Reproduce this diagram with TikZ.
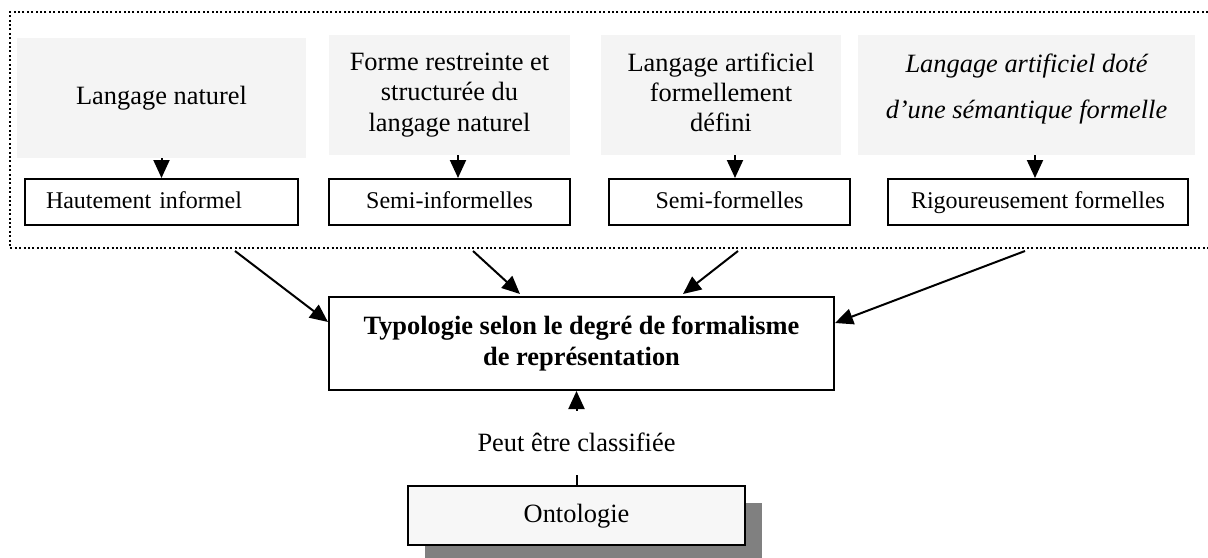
\documentclass[tikz,border=0pt]{standalone}
\usepackage{fontspec}
\setmainfont{Liberation Serif}
\usetikzlibrary{arrows.meta,shadows}
\definecolor{paneGrey}{HTML}{F4F4F4}
\definecolor{ontoFill}{HTML}{F7F7F7}
\definecolor{shadowGrey}{HTML}{808080}
\tikzset{
  big/.style={font=\fontsize{13.2}{15.2}\selectfont},
  small/.style={font=\fontsize{12}{14}\selectfont},
  pane/.style={big, fill=paneGrey, draw=none, align=center, inner sep=0pt,
               minimum height=60pt},
  levelbox/.style={small, draw, line width=1pt, fill=white, inner sep=0pt,
                   minimum height=23pt, text height=8.6pt, text depth=2.6pt},
  mainbox/.style={big, draw, line width=1pt, fill=white, align=center,
                  inner sep=0pt, minimum width=252.5pt, minimum height=46.5pt},
  ontobox/.style={big, draw, line width=1pt, fill=ontoFill, inner sep=0pt,
                  minimum width=168.5pt, minimum height=29.5pt,
                  text height=9.4pt, text depth=2.9pt,
                  drop shadow={shadow xshift=8.5pt, shadow yshift=-8.5pt,
                               fill=shadowGrey, opacity=1}},
  arr/.style={line width=1pt, -{Triangle[length=9pt,width=8pt]}},
  frameline/.style={line width=1pt, dash pattern=on 1pt off 1.2pt}
}
\begin{document}
\begin{tikzpicture}[x=0.5pt,y=-0.5pt]
\clip (0,0) rectangle (1208,557);

% dotted frame around the four representation levels (open on the right)
\draw[frameline] (1230,12) -- (10,12) -- (10,248) -- (1230,248);

% kinds of language
\node[pane, minimum width=144.5pt] (g1) at (161.5,98) {Langage naturel};
\node[pane, minimum width=120.5pt] (g2) at (449.5,95)
  {Forme restreinte et\\structurée du\\langage naturel};
\node[pane, minimum width=120pt] (g3) at (721,95)
  {Langage artificiel\\formellement\\défini\vphantom{g}};
\node[pane, minimum width=168.5pt,
  label={[name=g4t, font=\fontsize{13.2}{15.2}\selectfont\itshape,
          align=center, yshift=3pt]center:Langage artificiel doté\\[7.8pt]d’une sémantique formelle}]
  (g4) at (1026.5,95) {};

% degrees of formality
\node[levelbox, minimum width=136.5pt, text width=136.5pt, align=left]
  (w1) at (161.5,202) {\hspace*{10.5pt}Hautement informel};
\node[levelbox, minimum width=120.5pt] (w2) at (449.5,202) {Semi-informelles};
\node[levelbox, minimum width=120.5pt] (w3) at (729.5,202) {Semi-formelles};
\node[levelbox, minimum width=150pt] (w4) at (1038,202) {Rigoureusement formelles};

\draw[arr] (g1.south) -- (w1.north);
\draw[arr] ([xshift=4.25pt]g2.south) -- ([xshift=4.25pt]g2.south |- w2.north);
\draw[arr] ([xshift=7pt]g3.south) -- ([xshift=7pt]g3.south |- w3.north);
\draw[arr] ([xshift=4.25pt]g4.south) -- ([xshift=4.25pt]g4.south |- w4.north);

% typology box
\node[mainbox] (main) at (581.5,343.5)
  {\bfseries Typologie selon le degré de formalisme\\\bfseries de représentation};

\coordinate (s1) at (235,251);
\coordinate (s2) at (473,251);
\coordinate (s3) at (738,251);
\coordinate (s4) at (1025,251);
\draw[arr] (s1) -- ([yshift=10.75pt]main.west);
\draw[arr] (s2) -- ([xshift=-30.75pt,yshift=1pt]main.north);
\draw[arr] (s3) -- ([xshift=50.75pt,yshift=1pt]main.north);
\draw[arr] (s4) -- ([yshift=10.25pt]main.east);

% ontology
\node[ontobox] (onto) at (576.5,515.5) {Ontologie};
\draw[arr] (onto.north) -- node[pos=0.45, big, fill=white, inner sep=0pt,
  minimum height=32pt] (cls) {Peut être classifiée} (onto.north |- main.south);
\end{tikzpicture}
\end{document}
